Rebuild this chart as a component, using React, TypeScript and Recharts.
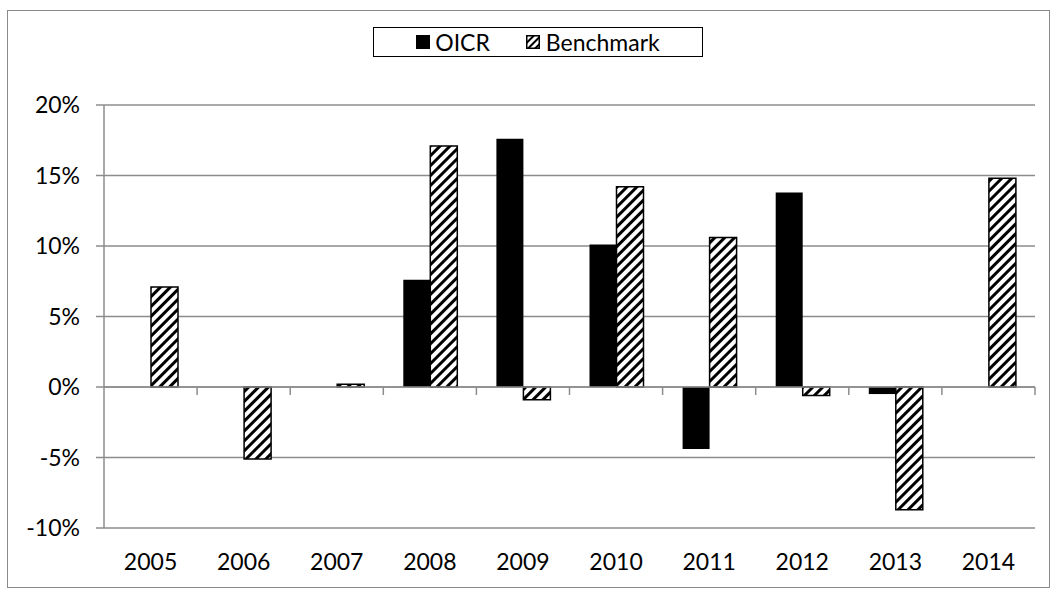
import { BarChart, Bar, XAxis, YAxis, CartesianGrid, ReferenceLine } from 'recharts';

const YEARS = ['2005', '2006', '2007', '2008', '2009', '2010', '2011', '2012', '2013', '2014'];
const OICR = [0, 0, 0, 7.6, 17.6, 10.1, -4.4, 13.8, -0.5, 0];
const BENCHMARK = [7.1, -5.1, 0.2, 17.1, -0.9, 14.2, 10.6, -0.6, -8.7, 14.8];
const Y_TICKS = [-10, -5, 0, 5, 10, 15, 20];

const data = YEARS.map((year, i) => ({ year, oicr: OICR[i], benchmark: BENCHMARK[i] }));

const FONT = 'Lato, "Open Sans", sans-serif';
const GRID = '#8c8c8c';

// zero line with small tick marks between categories (Excel style)
const ZeroAxis = (props: any) => {
  const { x1, x2, y1 } = props;
  const step = (x2 - x1) / YEARS.length;
  return (
    <g>
      <line x1={x1} x2={x2} y1={y1} y2={y1} stroke={GRID} strokeWidth={1.5} />
      {YEARS.map((_, i) => (
        <line key={i} x1={x1 + step * (i + 1)} x2={x1 + step * (i + 1)} y1={y1} y2={y1 + 8} stroke={GRID} strokeWidth={1.5} />
      ))}
    </g>
  );
};

const HatchIcon = ({ id }: { id: string }) => (
  <svg width={14} height={14} style={{ display: 'block' }}>
    <defs>
      <pattern id={id} width={5} height={5} patternUnits="userSpaceOnUse" patternTransform="rotate(45)">
        <rect x={0} y={0} width={2} height={5} fill="#000" />
      </pattern>
    </defs>
    <rect x={0.75} y={0.75} width={12.5} height={12.5} fill={`url(#${id})`} stroke="#000" strokeWidth={1.5} />
  </svg>
);

export default function App() {
  return (
    <div style={{ position: 'absolute', left: 0, top: 0, width: 1056, height: 592, background: '#fff', fontFamily: FONT }}>
      <div style={{ position: 'absolute', left: 7, top: 10, width: 1041, height: 576, border: '1.5px solid #8a8a8a' }} />
      <BarChart
        width={1056}
        height={592}
        data={data}
        margin={{ top: 105, right: 21, bottom: 4, left: 0 }}
        barGap={0}
        barSize={27}
      >
        <defs>
          <pattern id="hatch" width={7} height={7} patternUnits="userSpaceOnUse" patternTransform="rotate(45)">
            <rect x={0} y={0} width={7} height={7} fill="#fff" />
            <rect x={0} y={0} width={3} height={7} fill="#000" />
          </pattern>
        </defs>
        <CartesianGrid vertical={false} stroke={GRID} strokeWidth={1.5} />
        <XAxis
          dataKey="year"
          axisLine={false}
          tickLine={false}
          tickSize={0}
          tickMargin={26}
          height={60}
          interval={0}
          tick={{ fill: '#000', fontSize: 23, fontFamily: FONT }}
        />
        <YAxis
          domain={[-10, 20]}
          ticks={Y_TICKS}
          tickFormatter={(v: number) => `${v}%`}
          width={104}
          axisLine={{ stroke: GRID, strokeWidth: 1.5 }}
          tickLine={{ stroke: GRID, strokeWidth: 1.5 }}
          tickSize={8}
          tickMargin={16}
          tick={{ fill: '#000', fontSize: 23, fontFamily: FONT }}
        />
        <ReferenceLine y={0} shape={ZeroAxis} />
        <Bar dataKey="oicr" name="OICR" fill="#000" isAnimationActive={false} />
        <Bar dataKey="benchmark" name="Benchmark" fill="url(#hatch)" stroke="#000" strokeWidth={1.5} isAnimationActive={false} />
      </BarChart>
      <div
        style={{
          position: 'absolute',
          left: 373,
          top: 27,
          width: 330,
          height: 30,
          boxSizing: 'border-box',
          border: '1.5px solid #000',
          display: 'flex',
          alignItems: 'center',
          justifyContent: 'center',
          fontSize: 23,
          color: '#000',
        }}
      >
        <span style={{ display: 'block', width: 14, height: 14, background: '#000' }} />
        <span style={{ marginLeft: 5, marginRight: 36 }}>OICR</span>
        <HatchIcon id="hatch-legend" />
        <span style={{ marginLeft: 6 }}>Benchmark</span>
      </div>
    </div>
  );
}
